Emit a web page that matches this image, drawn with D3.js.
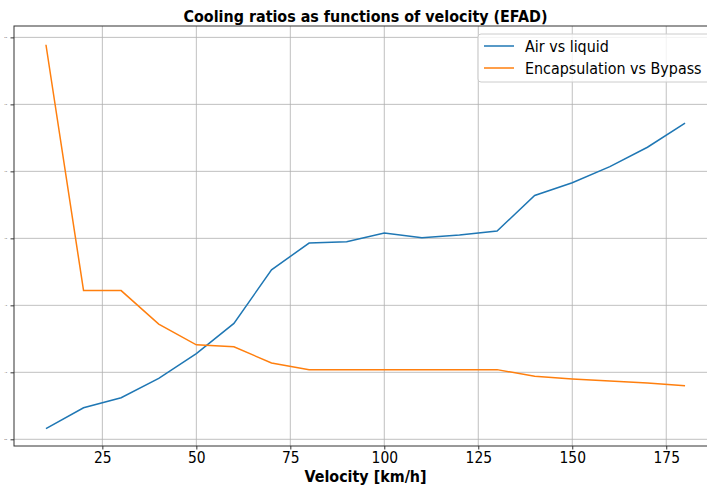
<!DOCTYPE html>
<html><head><meta charset="utf-8">
<script src="https://cdn.jsdelivr.net/npm/d3@7"></script>
<style>body{margin:0;background:#fff}svg{display:block}text{font-family:"DejaVu Sans",sans-serif}</style>
</head><body><svg id="c" width="707" height="485"></svg>
<script>
const velocity = [10,20,30,40,50,60,70,80,90,100,110,120,130,140,150,160,170,180];
const airVsLiquid = [0.16,0.47,0.62,0.91,1.28,1.73,2.53,2.93,2.95,3.08,3.01,3.05,3.11,3.64,3.83,4.07,4.36,4.72];
const encapVsBypass = [5.89,2.22,2.22,1.72,1.41,1.38,1.14,1.04,1.04,1.04,1.04,1.04,1.04,0.94,0.90,0.87,0.84,0.80];
const xTicks = [25,50,75,100,125,150,175];
const yTicks = [0,1,2,3,4,5,6];
const seriesNames = ["Air vs liquid","Encapsulation vs Bypass"];
const colors = ["#1f77b4","#ff7f0e"];

const SX = 0.895;
const svg = d3.select("#c");
const L=14, R=717, T=26, B=446;
const x = d3.scaleLinear().domain([1.5,188.5]).range([L,R]);
const y = d3.scaleLinear().domain([-0.1,6.17]).range([B,T]);

svg.append("g").selectAll("line").data(xTicks).join("line")
  .attr("x1",d=>x(d)).attr("x2",d=>x(d)).attr("y1",T).attr("y2",B)
  .attr("stroke","#b0b0b0").attr("stroke-width",0.8);
svg.append("g").selectAll("line").data(yTicks).join("line")
  .attr("x1",L).attr("x2",R).attr("y1",d=>y(d)).attr("y2",d=>y(d))
  .attr("stroke","#b0b0b0").attr("stroke-width",0.8);

const line = d3.line().x((d,i)=>x(velocity[i])).y(d=>y(d));
[airVsLiquid, encapVsBypass].forEach((s,k)=>{
  svg.append("path").datum(s).attr("d",line).attr("fill","none")
    .attr("stroke",colors[k]).attr("stroke-width",1.5);
});

const xa = svg.append("g").attr("transform",`translate(0,${B})`)
  .call(d3.axisBottom(x).tickValues(xTicks).tickSize(3.5).tickPadding(2.5));
xa.select(".domain").remove();
xa.selectAll("text").attr("font-size",15.5).attr("fill","#000").attr("font-family","DejaVu Sans")
  .attr("transform",`scale(${SX},1)`);
xa.selectAll("line").attr("stroke","#000").attr("stroke-width",0.8);

const ya = svg.append("g").attr("transform",`translate(${L},0)`)
  .call(d3.axisLeft(y).tickValues(yTicks).tickSize(3.5).tickPadding(3.5));
ya.select(".domain").remove();
ya.selectAll("text").attr("font-size",1.5).attr("fill","#000");
ya.selectAll("line").attr("stroke","#000").attr("stroke-width",0.8);

svg.append("rect").attr("x",L).attr("y",T).attr("width",R-L).attr("height",B-T)
  .attr("fill","none").attr("stroke","#333").attr("stroke-width",1);

svg.append("text").attr("transform",`translate(${(L+R)/2},22) scale(${SX},1)`).attr("text-anchor","middle")
  .attr("font-size",16).attr("font-weight","bold").text("Cooling ratios as functions of velocity (EFAD)");
svg.append("text").attr("transform",`translate(${(L+R)/2},482) scale(${SX},1)`).attr("text-anchor","middle")
  .attr("font-size",16).attr("font-weight","bold").text("Velocity [km/h]");

const lg = svg.append("g");
lg.append("rect").attr("x",478).attr("y",34).attr("width",260).attr("height",48).attr("rx",3)
  .attr("fill","#fff").attr("fill-opacity",0.8).attr("stroke","#ccc").attr("stroke-width",1);
seriesNames.forEach((n,k)=>{
  const yy = 46 + k*22;
  lg.append("line").attr("x1",484).attr("x2",514).attr("y1",yy).attr("y2",yy)
    .attr("stroke",colors[k]).attr("stroke-width",1.5);
  lg.append("text").attr("transform",`translate(525,${yy+5.5}) scale(${SX},1)`).attr("font-size",16).text(n);
});
</script></body></html>
